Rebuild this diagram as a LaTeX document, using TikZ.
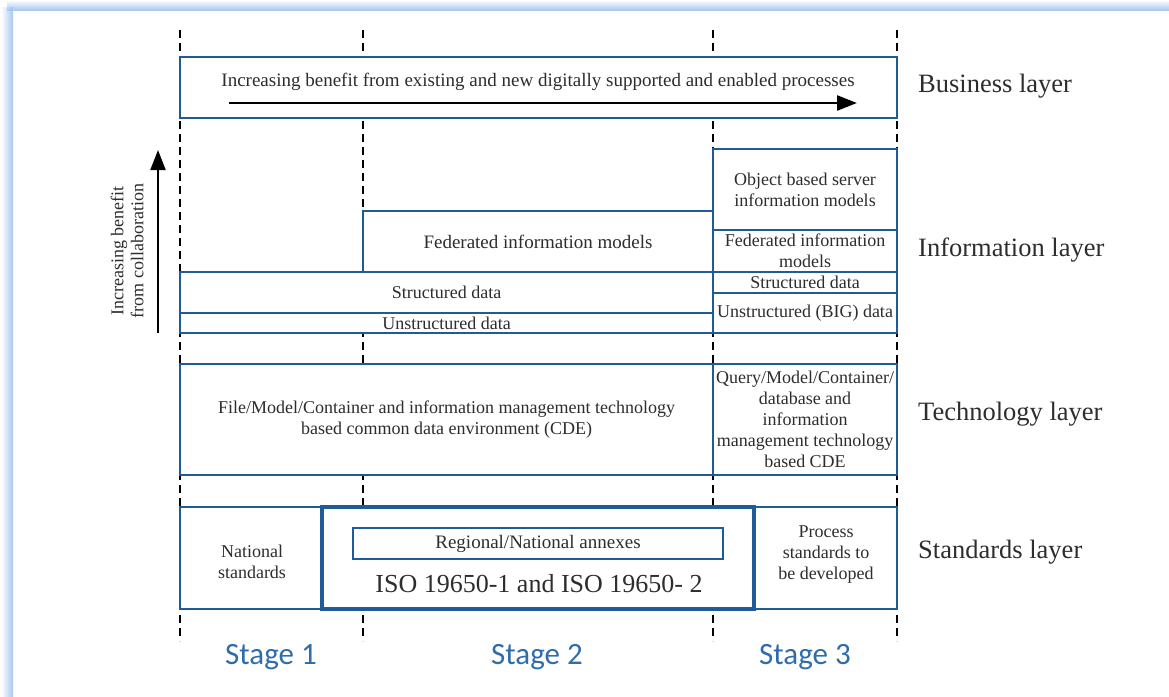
\documentclass[tikz,border=0pt]{standalone}
\usepackage{fontspec}
\setmainfont{Liberation Serif}
\newfontfamily\stagefont{Carlito}
\usetikzlibrary{arrows.meta}
\definecolor{boxblue}{RGB}{31,91,153}
\definecolor{stageblue}{RGB}{46,108,170}
\definecolor{inkgray}{RGB}{45,45,45}
\definecolor{glowblue}{RGB}{168,200,242}

% cell box given by its corners: [opts]{name}{x1}{y1}{x2}{y2}{text}
\newcommand\cellbox[7][]{%
  \node[cell,minimum width={(#5-#3)*1pt},minimum height={(#6-#4)*1pt},#1]
    (#2) at ({(#3+#5)/2},{(#4+#6)/2}) {#7};}

\begin{document}
\begin{tikzpicture}[x=1pt,y=-1pt,
  cell/.style={draw=boxblue,line width=1.2pt,fill=white,inner sep=0pt,outer sep=0pt,
    align=center,text=inkgray,font=\fontsize{18}{21}\selectfont},
  plain/.style={inner sep=0pt,align=center,text=inkgray,font=\fontsize{18}{21}\selectfont},
  outline/.style={draw=boxblue,line width=2.3pt,line join=miter},
  guide/.style={black,line width=2.4pt,dash pattern=on 8pt off 5pt},
  layerlabel/.style={anchor=west,inner sep=0pt,text=inkgray,font=\fontsize{26.5}{30}\selectfont},
  stagelabel/.style={inner sep=0pt,text=stageblue,font=\stagefont\fontsize{31}{36}\selectfont},
  bigarrow/.style={black,line width=2.4pt,-{Triangle[length=20pt,width=15pt]}}]

\useasboundingbox (0,0) rectangle (1169,696);

% soft frame edges
\shade[left color=white,right color=glowblue] (1,7) rectangle (13,696);
\shade[top color=white,bottom color=glowblue] (7,0) rectangle (1169,10);
\fill[glowblue] (10,7) rectangle (13,10);

% stage boundary guides
\foreach \gx/\gn in {180/a,363/b,713/c,897/d}{
  \coordinate (gt\gn) at (\gx,30);
  \coordinate (gb\gn) at (\gx,641);
  \draw[guide] (gt\gn) -- (gb\gn);
}

% business layer
\cellbox[outline]{business}{180}{57}{897}{118}{}
\node[plain,font=\fontsize{19}{22}\selectfont] (btext) at (538,82) {Increasing benefit from existing and new digitally supported and enabled processes};
\coordinate (bs) at (229,103);
\coordinate (be) at (857,103);
\draw[bigarrow] (bs) -- (be);

% information layer
\cellbox{objsrv}{713}{149}{897}{230}{Object based server\\information models}
\cellbox{fed3}{713}{230}{897}{272}{Federated information\\models}
\cellbox{str3}{713}{272}{897}{293}{Structured data}
\cellbox{uns3}{713}{293}{897}{333}{Unstructured (BIG) data}
\cellbox[font=\fontsize{19}{22}\selectfont]{fed2}{363}{211}{713}{272}{Federated information models}
\cellbox{str12}{180}{272}{713}{313}{Structured data}
\cellbox{uns12}{180}{313}{713}{333}{Unstructured data}
\draw[outline] (uns12.south west) -- (str12.north west) -- (fed2.south west)
  -- (fed2.north west) -- (fed2.north east) -- (objsrv.north west)
  -- (objsrv.north east) -- (uns3.south east) -- cycle;

% technology layer
\cellbox{cde12}{180}{364}{713}{475}{File/Model/Container and information management technology\\based common data environment (CDE)}
\cellbox{cde3}{713}{364}{897}{475}{Query/Model/Container/\\database and\\information\\management technology\\based CDE}
\draw[outline] (cde12.north west) rectangle (cde3.south east);

% standards layer
\cellbox[outline]{stdframe}{180}{507}{897}{609}{}
\node[plain] (national) at (252,562) {National\\standards};
\node[plain] (process) at (826,555) {Process\\standards to\\be developed};
\cellbox[draw=boxblue,line width=4.5pt]{iso}{322}{507}{754}{609}{}
\cellbox[font=\fontsize{19}{22}\selectfont]{annex}{353}{528}{723}{559}{Regional/National annexes}
\node[plain,font=\fontsize{26}{30}\selectfont] (isotext) at (539,584) {ISO 19650-1 and ISO 19650- 2};

% collaboration axis
\coordinate (cs) at (158,333);
\coordinate (ce) at (158,150);
\draw[bigarrow,line width=2pt] (cs) -- (ce);
\node[plain,rotate=90,font=\fontsize{18}{20}\selectfont] (collab) at (127,251) {Increasing benefit\\from collaboration};

% layer names
\node[layerlabel] (lbus) at (918,86) {Business layer};
\node[layerlabel] (linfo) at (918,250) {Information layer};
\node[layerlabel] (ltech) at (918,414) {Technology layer};
\node[layerlabel] (lstd) at (918,552) {Standards layer};

% stage names
\node[stagelabel] (st1) at (271,657) {Stage 1};
\node[stagelabel] (st2) at (537,657) {Stage 2};
\node[stagelabel] (st3) at (805,657) {Stage 3};
\end{tikzpicture}
\end{document}
